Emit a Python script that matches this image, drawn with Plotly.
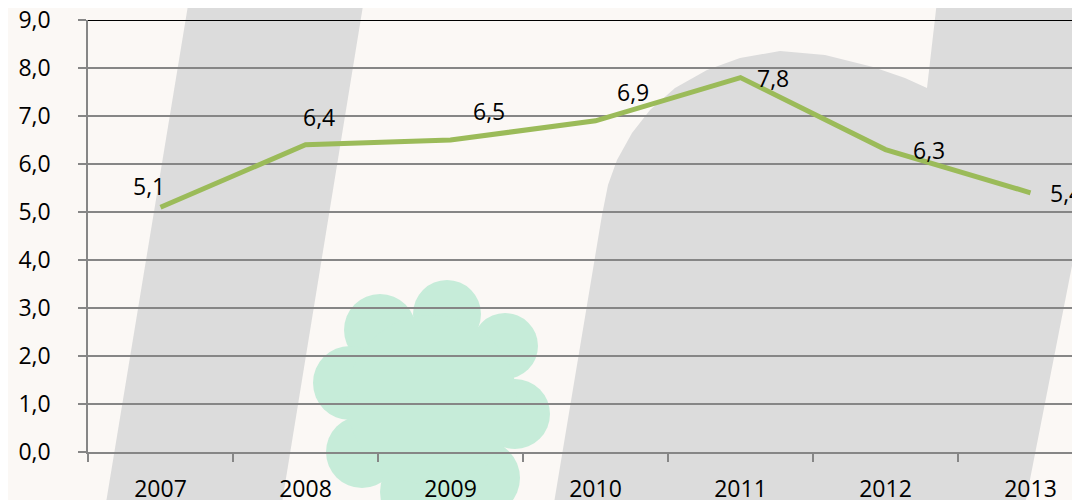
import plotly.graph_objects as go

years = ["2007", "2008", "2009", "2010", "2011", "2012", "2013"]
values = [5.1, 6.4, 6.5, 6.9, 7.8, 6.3, 5.4]
labels = ["5,1", "6,4", "6,5", "6,9", "7,8", "6,3", "5,4"]
# label offsets (pixels) relative to each point
label_dx = [-12, 13, 38, 37, 32, 43, 35]
label_dy = [-21, -28, -29, -29, 0, 0, 0]

W, H = 1080, 500
OFF = 8  # page body margin
L, R, T, B = 80, 8, 12, 56
PW, PH = W - L - R, H - T - B


def px(x):
    return (x - OFF - L) / PW


def py(y):
    return (H - B - (y - OFF)) / PH


def path(points, close=True):
    s = "M " + " L ".join(f"{px(x):.5f},{py(y):.5f}" for x, y in points)
    return s + (" Z" if close else "")


GRAY = "#DCDCDC"
GREEN_CLOUD = "#C6ECD9"

shapes = []
# left stem of watermark
shapes.append(dict(type="path", xref="paper", yref="paper", layer="below",
                   path=path([(193, -25), (368, -25), (280, 515), (104, 515)]),
                   fillcolor=GRAY, line=dict(width=0)))
# arch + right stem
arch = [(940, -25), (1100, -25), (1100, 140), (1080, 225), (1023, 515), (552, 515),
        (602, 215), (608, 185), (617, 160), (632, 133), (650, 110), (675, 88),
        (707, 70), (740, 58), (780, 51), (825, 55), (873, 67), (905, 78), (927, 88)]
shapes.append(dict(type="path", xref="paper", yref="paper", layer="below",
                   path=path(arch), fillcolor=GRAY, line=dict(width=0)))
# cloud
lobes = [(447, 314, 34), (380, 330, 36), (505, 346, 33), (350, 383, 37),
         (515, 414, 35), (362, 452, 36), (482, 478, 38), (420, 492, 40),
         (432, 400, 85)]
for cx, cy, r in lobes:
    shapes.append(dict(type="circle", xref="paper", yref="paper", layer="below",
                       x0=px(cx - r), x1=px(cx + r), y0=py(cy + r), y1=py(cy - r),
                       fillcolor=GREEN_CLOUD, line=dict(width=0)))
# top border line at 9,0
shapes.append(dict(type="line", xref="paper", yref="y", x0=0, x1=1, y0=9, y1=9,
                   line=dict(color="#000000", width=2), layer="above"))

fig = go.Figure()
fig.add_trace(go.Scatter(x=years, y=values, mode="lines",
                         line=dict(color="#9BBB59", width=5),
                         cliponaxis=False, hoverinfo="skip"))

FONT = dict(family="Open Sans", size=23, color="#000000")
annotations = []
for i, (v, lab) in enumerate(zip(values, labels)):
    annotations.append(dict(x=i, y=v, xref="x", yref="y", text=lab, showarrow=False,
                            xshift=label_dx[i], yshift=-label_dy[i], font=FONT))

fig.update_layout(
    width=W, height=H,
    margin=dict(l=L, r=R, t=T, b=B, pad=0, autoexpand=False),
    paper_bgcolor="#FBF8F5",
    plot_bgcolor="rgba(0,0,0,0)",
    showlegend=False,
    separators=",.",
    shapes=shapes,
    annotations=annotations,
    font=FONT,
)
fig.update_xaxes(type="category", range=[-0.5, PW / 145 - 0.5],
                 tickson="boundaries", ticks="outside", ticklen=8, tickwidth=1.5,
                 tickcolor="#868686", showgrid=False, showline=True, automargin=False,
                 linecolor="#868686", linewidth=1.5, ticklabelstandoff=16,
                 ticklabeloverflow="allow", tickfont=FONT)
fig.update_yaxes(range=[0, 9], dtick=1, tickformat=".1f", ticks="outside", ticklen=8,
                 tickwidth=1.5, tickcolor="#868686", showgrid=True, gridcolor="#868686",
                 gridwidth=1.5, showline=True, linecolor="#868686", linewidth=1.5,
                 zeroline=False, ticklabelstandoff=23, automargin=False,
                 ticklabeloverflow="allow", tickfont=FONT)

fig.write_html("out.html")
